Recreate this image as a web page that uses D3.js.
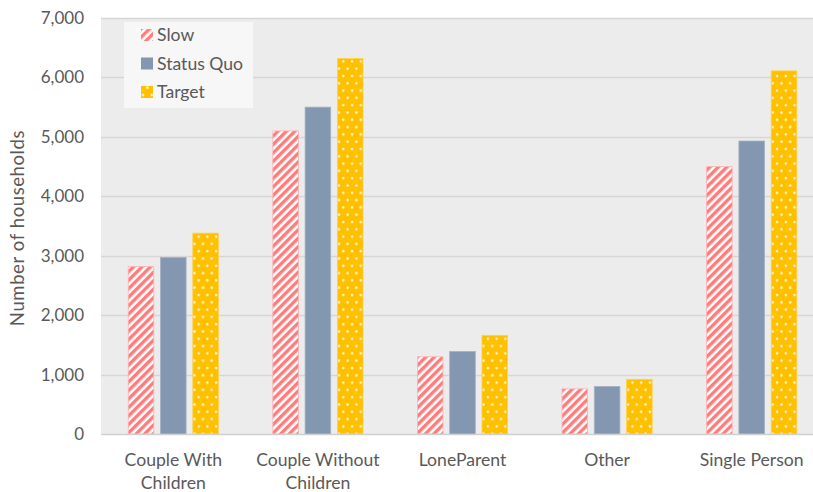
<!DOCTYPE html>
<html>
<head>
<meta charset="utf-8">
<script src="https://cdn.jsdelivr.net/npm/d3@7"></script>
<style>
  html, body { margin: 0; padding: 0; background: #ffffff; }
  svg { display: block; font-family: Lato, "Open Sans", "Liberation Sans", sans-serif; }
</style>
</head>
<body>
<svg id="chart" width="813" height="492"></svg>
<script>
// Household types and projected counts per scenario
const categories = ["Couple With Children", "Couple Without Children", "LoneParent", "Other", "Single Person"];
const categoryLines = [["Couple With", "Children"], ["Couple Without", "Children"], ["LoneParent"], ["Other"], ["Single Person"]];
const seriesNames = ["Slow", "Status Quo", "Target"];
const slowValues = [2820, 5100, 1300, 760, 4500];
const statusQuoValues = [2970, 5500, 1390, 800, 4930];
const targetValues = [3380, 6320, 1660, 920, 6110];
const yTicks = [0, 1000, 2000, 3000, 4000, 5000, 6000, 7000];
const yTitle = "Number of households";

const seriesValues = [slowValues, statusQuoValues, targetValues];
const rows = categories.map((c, i) => ({
  category: c,
  values: seriesNames.map((s, j) => ({ series: s, value: seriesValues[j][i] }))
}));

const svg = d3.select("#chart");
const plot = { left: 101, right: 824, top: 18, bottom: 434 };

// Fill patterns for each scenario
const defs = svg.append("defs");
const stripes = defs.append("pattern")
  .attr("id", "pat-slow").attr("patternUnits", "userSpaceOnUse")
  .attr("width", 6).attr("height", 6)
  .attr("patternTransform", "rotate(45)");
stripes.append("rect").attr("width", 6).attr("height", 6).attr("fill", "#ffffff");
stripes.append("rect").attr("width", 3.4).attr("height", 6).attr("fill", "#ff7c7c");

const dots = defs.append("pattern")
  .attr("id", "pat-target").attr("patternUnits", "userSpaceOnUse")
  .attr("width", 8.7).attr("height", 14.6);
dots.append("rect").attr("width", 8.7).attr("height", 14.6).attr("fill", "#ffc000");
dots.append("circle").attr("cx", 2).attr("cy", 3).attr("r", 1.3).attr("fill", "#fff6d8");
dots.append("circle").attr("cx", 6.35).attr("cy", 10.3).attr("r", 1.3).attr("fill", "#fff6d8");

const fills = { "Slow": "url(#pat-slow)", "Status Quo": "#8497b0", "Target": "url(#pat-target)" };
const strokes = { "Slow": "#ffb3b3", "Status Quo": "#a3b1c4", "Target": "#ffd24d" };

const x0 = d3.scaleBand().domain(categories).range([plot.left, plot.right]).paddingInner(0).paddingOuter(0);
const x1 = d3.scaleBand().domain(seriesNames).range([0, x0.bandwidth()]).paddingInner(0.207).paddingOuter(0.842);
const y = d3.scaleLinear().domain([0, 7000]).range([plot.bottom, plot.top]);

// Plot background
svg.append("rect")
  .attr("x", plot.left).attr("y", plot.top)
  .attr("width", 813 - plot.left).attr("height", plot.bottom - plot.top)
  .attr("fill", "#ececec");

// Gridlines
svg.append("g").selectAll("line").data(yTicks.filter(t => t > 0)).join("line")
  .attr("x1", plot.left).attr("x2", 813)
  .attr("y1", d => Math.round(y(d)) + 0.5).attr("y2", d => Math.round(y(d)) + 0.5)
  .attr("stroke", "#d6d6d6").attr("stroke-width", 1.4);

// Bars
const groups = svg.append("g").selectAll("g").data(rows).join("g")
  .attr("transform", d => `translate(${x0(d.category)},0)`);
groups.selectAll("rect").data(d => d.values).join("rect")
  .attr("x", d => x1(d.series))
  .attr("width", x1.bandwidth())
  .attr("y", d => y(d.value))
  .attr("height", d => y(0) - y(d.value))
  .attr("fill", d => fills[d.series])
  .attr("stroke", d => strokes[d.series])
  .attr("stroke-width", 0.8);

// Baseline axis
svg.append("line")
  .attr("x1", plot.left).attr("x2", 813)
  .attr("y1", plot.bottom + 0.5).attr("y2", plot.bottom + 0.5)
  .attr("stroke", "#cfcfcf").attr("stroke-width", 1.5);

// Y axis labels
const yAxis = d3.axisLeft(y).tickValues(yTicks).tickFormat(d3.format(",")).tickSize(0).tickPadding(0);
const yg = svg.append("g").attr("transform", `translate(84,0)`).call(yAxis);
yg.select(".domain").remove();
yg.selectAll("text").attr("font-size", 17).attr("fill", "#595959")
  .attr("font-family", "Lato, 'Open Sans', sans-serif");

// X axis labels
const xg = svg.append("g");
xg.selectAll("text").data(categories).join("text")
  .attr("x", d => x0(d) + x0.bandwidth() / 2)
  .attr("y", 466)
  .attr("text-anchor", "middle")
  .attr("font-size", 17.6)
  .attr("fill", "#595959")
  .each(function (d, i) {
    const t = d3.select(this);
    categoryLines[i].forEach((line, k) => {
      t.append("tspan").attr("x", x0(d) + x0.bandwidth() / 2).attr("dy", k === 0 ? 0 : 23).text(line);
    });
  });

// Y axis title
svg.append("text")
  .attr("transform", `translate(24,${(plot.top + plot.bottom) / 2 + 2}) rotate(-90)`)
  .attr("text-anchor", "middle")
  .attr("font-size", 18.5)
  .attr("letter-spacing", 0.6)
  .attr("fill", "#595959")
  .text(yTitle);

// Legend
const legend = svg.append("g");
legend.append("rect")
  .attr("x", 124).attr("y", 22).attr("width", 129).attr("height", 86)
  .attr("fill", "#f7f7f7");
const items = legend.selectAll("g").data(seriesNames).join("g")
  .attr("transform", (d, i) => `translate(141,${35 + i * 28.5})`);
items.append("rect")
  .attr("x", 0).attr("y", -6).attr("width", 12).attr("height", 12)
  .attr("fill", d => fills[d]);
items.append("text")
  .attr("x", 16).attr("y", 0).attr("dy", "0.35em")
  .attr("font-size", 17.6).attr("fill", "#595959")
  .text(d => d);
</script>
</body>
</html>
